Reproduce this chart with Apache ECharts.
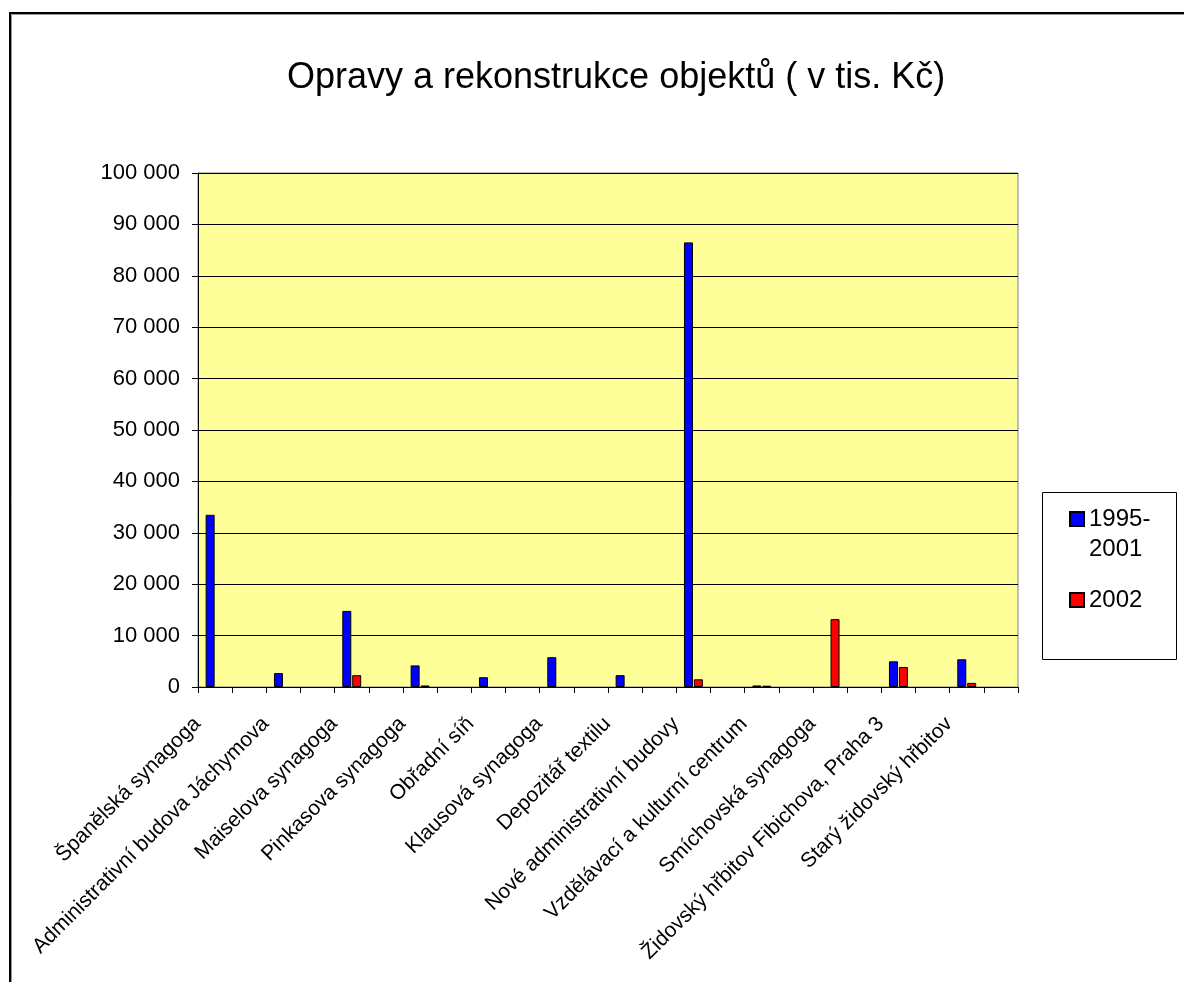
<!DOCTYPE html>
<html>
<head>
<meta charset="utf-8">
<script src="https://cdn.jsdelivr.net/npm/echarts@6/dist/echarts.min.js"></script>
<style>
html,body{margin:0;padding:0;background:#fff;}
#chart{width:1184px;height:982px;}
</style>
</head>
<body>
<div id="chart"></div>
<script>
// Categories (every other slot is an empty category, as in the original chart)
const categories = [
  'Španělská synagoga', '',
  'Administrativní budova Jáchymova', '',
  'Maiselova synagoga', '',
  'Pinkasova synagoga', '',
  'Obřadní síň', '',
  'Klausová synagoga', '',
  'Depozitář textilu', '',
  'Nové administrativní budovy', '',
  'Vzdělávací a kulturní centrum', '',
  'Smíchovská synagoga', '',
  'Židovský hřbitov Fibichova, Praha 3', '',
  'Starý židovský hřbitov', ''
];
const seriesNames = ['1995-2001', '2002'];
const values1995_2001 = [33500, null, 2700, null, 14800, null, 4200, null, 1900, null, 5800, null,
                         2300, null, 86500, null, 300, null, null, null, 5000, null, 5400, null];
const values2002 = [null, null, null, null, 2300, null, 300, null, null, null, null, null,
                    null, null, 1500, null, 250, null, 13200, null, 3900, null, 800, null];
const yTicks = { min: 0, max: 100000, interval: 10000 };
const titleText = 'Opravy a rekonstrukce objektů ( v tis. Kč)';

const FONT = '"Liberation Sans", Arial, sans-serif';
const chart = echarts.init(document.getElementById('chart'), null, { renderer: 'canvas' });

const fmt = v => String(v).replace(/\B(?=(\d{3})+(?!\d))/g, ' ');

chart.setOption({
  animation: false,
  backgroundColor: '#ffffff',
  title: {
    text: titleText,
    left: 287,
    top: 60,
    padding: 0,
    textStyle: { fontFamily: FONT, fontSize: 36, fontWeight: 'normal', color: '#000' }
  },
  graphic: [
    { type: 'rect', silent: true, z: 100,
      shape: { x: 10, y: 13, width: 1400, height: 1200 },
      style: { fill: 'none', stroke: '#000', lineWidth: 2 } },
    { type: 'rect', silent: true, z: 100,
      shape: { x: 11.5, y: 14.5, width: 1400, height: 1200 },
      style: { fill: 'none', stroke: '#999', lineWidth: 1 } },
    { type: 'rect', silent: true, z: 1,
      shape: { x: 1042.5, y: 492.5, width: 134, height: 167 },
      style: { fill: '#fff', stroke: '#000', lineWidth: 1 } }
  ],
  legend: {
    orient: 'vertical',
    left: 1069,
    top: 474,
    padding: 0,
    itemWidth: 14,
    itemHeight: 14,
    itemGap: 21,
    icon: 'rect',
    z: 10,
    // multi-line entry: an empty leading line keeps "1995-" level with the swatch
    formatter: name => name === '1995-2001' ? '\n1995-\n2001' : name,
    textStyle: { fontFamily: FONT, fontSize: 24, lineHeight: 30, color: '#000' },
    data: seriesNames
  },
  grid: {
    left: 198, right: 166, top: 173, bottom: 295,
    outerBoundsMode: 'none',
    show: true, backgroundColor: '#FFFF99', borderColor: '#808080', borderWidth: 1
  },
  xAxis: {
    type: 'category',
    data: categories,
    boundaryGap: true,
    axisLine: { show: true, lineStyle: { color: '#000', width: 1 } },
    axisTick: { show: true, alignWithLabel: false, interval: 0, length: 6, lineStyle: { color: '#000' } },
    axisLabel: {
      interval: 0, rotate: 45, margin: 16, padding: [0, 25, 0, 0],
      fontFamily: FONT, fontSize: 21, color: '#000'
    },
    splitLine: { show: false }
  },
  yAxis: {
    type: 'value',
    min: yTicks.min, max: yTicks.max, interval: yTicks.interval,
    axisLine: { show: true, lineStyle: { color: '#000', width: 1 } },
    axisTick: { show: true, length: 6, lineStyle: { color: '#000' } },
    axisLabel: { margin: 18, fontFamily: FONT, fontSize: 22, color: '#000', formatter: fmt },
    splitLine: { show: true, lineStyle: { color: '#000', width: 1 } }
  },
  series: [
    { name: seriesNames[0], type: 'bar', data: values1995_2001, barWidth: 9, barGap: '10%',
      itemStyle: { color: '#0000FF', borderColor: '#000', borderWidth: 1 } },
    { name: seriesNames[1], type: 'bar', data: values2002, barWidth: 9,
      itemStyle: { color: '#FF0000', borderColor: '#000', borderWidth: 1 } }
  ]
});
</script>
</body>
</html>
